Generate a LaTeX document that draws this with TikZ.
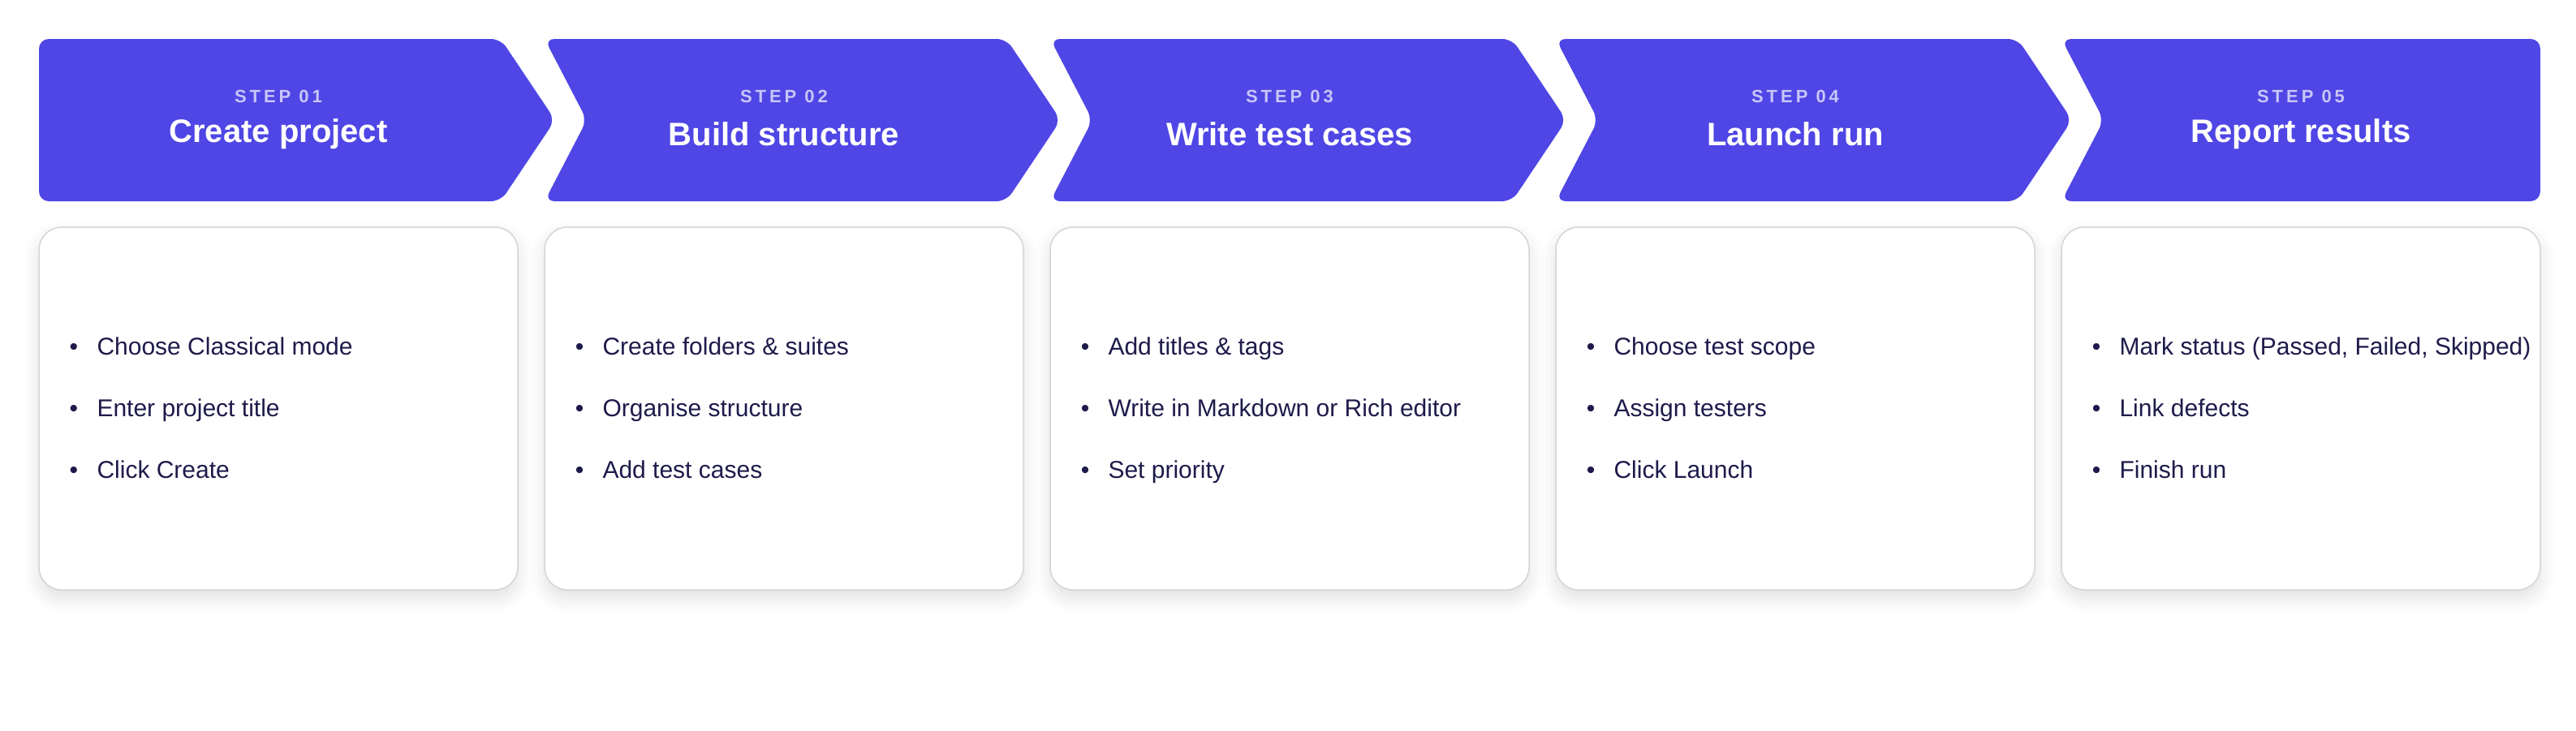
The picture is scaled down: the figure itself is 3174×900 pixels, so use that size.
\documentclass[tikz,border=0pt]{standalone}
\usepackage{fontspec}
\setmainfont{Liberation Sans}
\usetikzlibrary{shadows.blur}
\definecolor{indig}{HTML}{4F46E5}
\definecolor{lav}{HTML}{C9C6F8}
\definecolor{navy}{HTML}{1E1B4B}
\definecolor{cardline}{HTML}{D4D4DC}
\begin{document}
\begin{tikzpicture}[x=1pt,y=-1pt,
  chev/.style={fill=indig,rounded corners=12pt},
  card/.style={draw=cardline,line width=1.5pt,fill=white,rounded corners=28pt,
    blur shadow={shadow xshift=0pt,shadow yshift=-10pt,shadow blur radius=18pt,shadow opacity=12}},
  steplbl/.style={text=lav,font=\bfseries\fontsize{22}{26}\selectfont\addfontfeature{LetterSpace=18}},
  titlelbl/.style={text=white,font=\bfseries\fontsize{40}{46}\selectfont},
  item/.style={text=navy,anchor=base west,font=\fontsize{30}{36}\selectfont}]
\useasboundingbox (0,0) rectangle (3174,900);
\def\titles{{"Create project","Build structure","Write test cases","Launch run","Report results"}}
\foreach \i/\sa/\sb/\sc in {0/Choose Classical mode/Enter project title/Click Create,
  1/Create folders \& suites/Organise structure/Add test cases,
  2/Add titles \& tags/Write in Markdown or Rich editor/Set priority,
  3/Choose test scope/Assign testers/Click Launch,
  4/{Mark status (Passed, Failed, Skipped)}/Link defects/Finish run}{
  \pgfmathsetmacro{\xo}{48+623*\i}
  \ifnum\i=0
    \fill[chev] (\xo,48) -- (\xo+569,48) -- (\xo+636,148) -- (\xo+569,248) -- (\xo,248) -- cycle;
  \else\ifnum\i=4
    \fill[chev] (\xo,48) -- (\xo+590,48) -- (\xo+590,248) -- (\xo,248) -- (\xo+52,148) -- cycle;
  \else
    \fill[chev] (\xo,48) -- (\xo+569,48) -- (\xo+636,148) -- (\xo+569,248) -- (\xo,248) -- (\xo+52,148) -- cycle;
  \fi\fi
  \pgfmathtruncatemacro{\n}{\i+1}
  \node[steplbl] (s\i) at (\xo+295,119) {STEP 0\n};
  \pgfmathsetmacro{\tt}{\titles[\i]}
  \node[titlelbl] (t\i) at (\xo+295,165) {\tt};
  \path[card] (\xo,280) rectangle (\xo+590,727);
  \foreach \j/\txt in {0/\sa,1/\sb,2/\sc}{
    \node[item] (b\i\j) at (\xo+68,437+76*\j) {\txt};
    \node[text=navy,font=\fontsize{30}{36}\selectfont,anchor=base] (d\i\j) at (\xo+43,437+76*\j) {•};
  }
}
\end{tikzpicture}
\end{document}
